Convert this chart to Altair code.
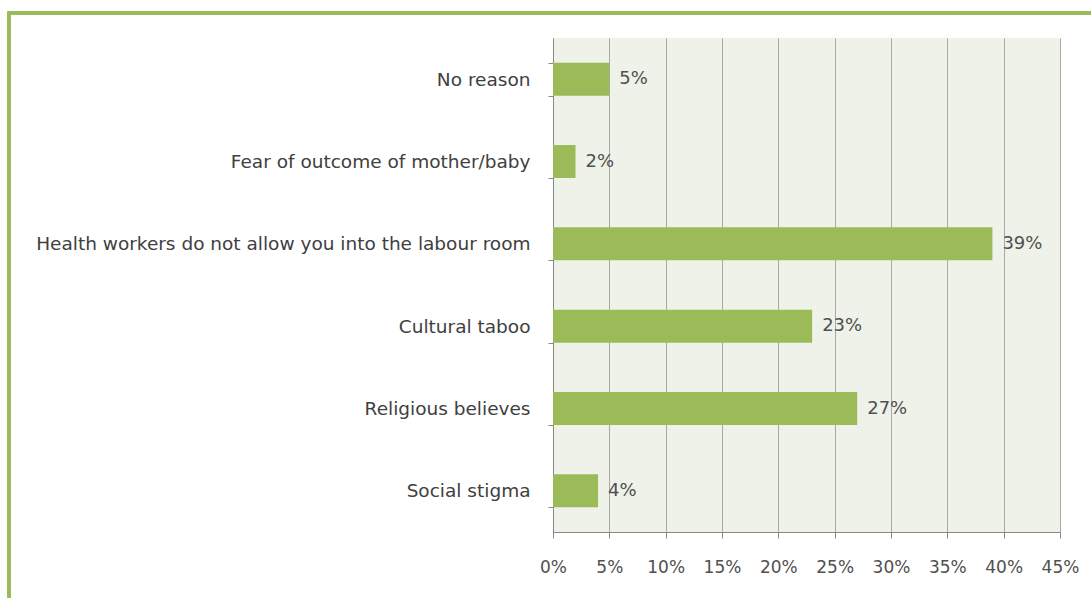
import altair as alt
import pandas as pd

categories = [
    "No reason",
    "Fear of outcome of mother/baby",
    "Health workers do not allow you into the labour room",
    "Cultural taboo",
    "Religious believes",
    "Social stigma",
]
values = [0.05, 0.02, 0.39, 0.23, 0.27, 0.04]
labels = ["5%", "2%", "39%", "23%", "27%", "4%"]

df = pd.DataFrame({"cat": categories, "val": values, "lab": labels})

FONT = "DejaVu Sans"
GREEN = "#9bbb59"

y_enc = alt.Y(
    "cat:N",
    sort=categories,
    title=None,
    scale=alt.Scale(paddingInner=0.6, paddingOuter=0.3),
    axis=alt.Axis(
        labelFontSize=18.5,
        labelColor="#404040",
        labelFont=FONT,
        labelPadding=18,
        tickBand="extent",
        tickSize=5,
        tickColor="#888888",
        domainColor="#888888",
        labelLimit=600,
    ),
)
x_enc = alt.X(
    "val:Q",
    title=None,
    scale=alt.Scale(domain=[0, 0.45], nice=False),
    axis=alt.Axis(
        format=".0%",
        values=[i * 0.05 for i in range(10)],
        labelFontSize=17,
        labelColor="#505050",
        labelFont=FONT,
        labelPadding=21,
        labelOverlap=False,
        labelFlush=False,
        tickSize=6,
        tickColor="#888888",
        domainColor="#888888",
        grid=True,
        gridColor="#a8a8a8",
        gridWidth=1,
    ),
)

bars = alt.Chart(df).mark_bar(color=GREEN).encode(x=x_enc, y=y_enc)
text = alt.Chart(df).mark_text(
    align="left", dx=10, fontSize=18, font=FONT, color="#505050"
).encode(x="val:Q", y=alt.Y("cat:N", sort=categories), text="lab:N")

frame = alt.Chart(df).mark_rect(
    fill=None, stroke=GREEN, strokeWidth=3, clip=False
).encode(
    x=alt.value(-544), x2=alt.value(560), y=alt.value(-25), y2=alt.value(600)
)

chart = (
    alt.layer(bars, text, frame)
    .properties(
        width=507,
        height=494,
        padding={"left": 553, "top": 38, "right": 31, "bottom": 66},
        autosize=alt.AutoSizeParams(type="none"),
        background="white",
    )
    .configure_view(fill="#eef2e8", stroke=None)
)

chart.save("out.html", embed_options={"renderer": "svg", "actions": False})
